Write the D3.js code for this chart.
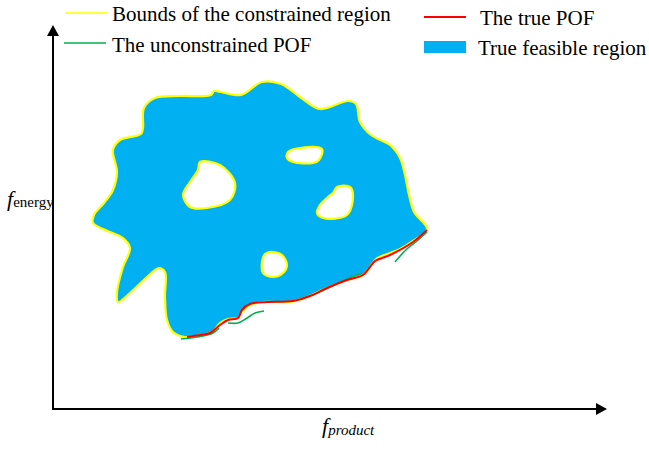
<!DOCTYPE html>
<html><head><meta charset="utf-8">
<script src="https://cdn.jsdelivr.net/npm/d3@7"></script>
<style>body{margin:0;background:#fff}svg{display:block}text{font-family:"Liberation Serif","Times New Roman",serif;fill:#000}</style>
</head><body><svg id="c" width="649" height="450"></svg>
<script>
// Schematic coordinates (origin at axes corner, units ~ pixels)
const outerBound = [[90,281],[91,301],[102,311],[127,313],[158,314],[161,318],[168,317],[188,314],[209,327],[228,325],[247,312],[267,300],[295,308],[303,305],[307,287],[318,274],[337,264],[347,251],[352,234],[356,214],[361,197],[374,180],[360,168],[347,160],[337,156],[323,150],[317,142],[310,134],[294,129],[274,121],[254,112],[237,107],[209,107],[195,103],[188,96],[185,91],[175,90],[167,86],[159,77],[144,73],[132,72],[120,77],[114,89],[112,112],[112,137],[106,141],[94,132],[77,116],[65,107],[64,117],[70,142],[77,161],[70,171],[50,180],[40,186],[41,194],[51,206],[60,219],[64,237],[60,259],[67,269],[88,275]];
const hole1 = [[147,247],[167,244],[182,226],[177,209],[154,201],[137,202],[130,214],[137,227],[145,239]];
const hole2 = [[235,257],[247,261],[269,260],[266,249],[260,246],[240,247],[234,251]];
const hole3 = [[284,222],[297,222],[300,212],[294,194],[270,191],[264,196],[267,204],[275,212],[280,216]];
const hole4 = [[217,157],[229,154],[234,144],[230,136],[220,132],[210,136],[209,147],[212,155]];
const truePOF = [[134,72],[147,74],[157,76],[167,84],[175,89],[185,91],[189,99],[197,105],[214,107],[240,108],[257,113],[274,121],[294,129],[310,134],[317,142],[322,148],[337,154],[360,167],[374,179]];
const unconPOF1 = [[128,70],[144,72],[160,76],[166,81]];
const unconPOF2 = [[175,86],[185,86],[194,91],[202,96],[211,98]];
const unconPOF3 = [[247,110],[262,115],[277,122],[294,130],[309,136]];
const unconPOF4 = [[342,147],[348,154],[355,161],[364,168],[374,177]];
const legendLabels = ["Bounds of the constrained region","The unconstrained POF","The true POF","True feasible region"];
const xLabel = ["f","product"];
const yLabel = ["f","energy"];

const svg = d3.select("#c");
const x = d3.scaleLinear().domain([0,554]).range([53,607]);
const y = d3.scaleLinear().domain([0,384]).range([409,25]);
const closed = d3.line().x(d=>x(d[0])).y(d=>y(d[1])).curve(d3.curveCatmullRomClosed.alpha(0.5));
const open = d3.line().x(d=>x(d[0])).y(d=>y(d[1])).curve(d3.curveCatmullRom.alpha(0.5));

const regionPath = [outerBound,hole1,hole2,hole3,hole4].map(r=>closed(r)).join(" ");
svg.append("path").attr("d",regionPath).attr("fill","#00B0F0").attr("fill-rule","evenodd")
  .attr("stroke","#FFFF00").attr("stroke-width",2.2).attr("stroke-linejoin","round");

[unconPOF1,unconPOF2,unconPOF3,unconPOF4].forEach(s=>{
  svg.append("path").attr("d",open(s)).attr("fill","none").attr("stroke","#00B050").attr("stroke-width",1.6);
});
svg.append("path").attr("d",open(truePOF)).attr("fill","none").attr("stroke","#FF0000").attr("stroke-width",2);

// axes
const ax = svg.append("g");
ax.append("line").attr("x1",x(0)).attr("y1",y(0)+1).attr("x2",x(0)).attr("y2",y(374)).attr("stroke","#000").attr("stroke-width",2);
ax.append("line").attr("x1",x(0)-1).attr("y1",y(0)).attr("x2",x(544)).attr("y2",y(0)).attr("stroke","#000").attr("stroke-width",2);
ax.append("path").attr("d",`M${x(0)},${y(384)}L${x(0)-6},${y(373)}L${x(0)+6},${y(373)}Z`).attr("fill","#000");
ax.append("path").attr("d",`M${x(554)},${y(0)}L${x(543)},${y(0)-6}L${x(543)},${y(0)+6}Z`).attr("fill","#000");

// axis labels
const yl = svg.append("text").attr("x",7).attr("y",206);
yl.append("tspan").attr("font-style","italic").attr("font-size",22).text(yLabel[0]);
yl.append("tspan").attr("font-size",15).attr("dy",1).text(yLabel[1]);
const xl = svg.append("text").attr("x",322).attr("y",433);
xl.append("tspan").attr("font-style","italic").attr("font-size",22).text(xLabel[0]);
xl.append("tspan").attr("font-style","italic").attr("font-size",15).attr("dy",2).text(xLabel[1]);

// legend
const lg = svg.append("g");
lg.append("line").attr("x1",65).attr("x2",107).attr("y1",13).attr("y2",13).attr("stroke","#FFFF00").attr("stroke-width",1.5);
lg.append("text").attr("x",112).attr("y",21).attr("font-size",21).text(legendLabels[0]);
lg.append("line").attr("x1",64).attr("x2",106).attr("y1",43).attr("y2",43).attr("stroke","#00B050").attr("stroke-width",1.5);
lg.append("text").attr("x",112).attr("y",52).attr("font-size",21).text(legendLabels[1]);
lg.append("line").attr("x1",424).attr("x2",466).attr("y1",17).attr("y2",17).attr("stroke","#FF0000").attr("stroke-width",2);
lg.append("text").attr("x",480).attr("y",25).attr("font-size",21).text(legendLabels[2]);
lg.append("rect").attr("x",424).attr("y",41).attr("width",42).attr("height",12).attr("fill","#00B0F0");
lg.append("text").attr("x",478).attr("y",55).attr("font-size",21).text(legendLabels[3]);
</script></body></html>
